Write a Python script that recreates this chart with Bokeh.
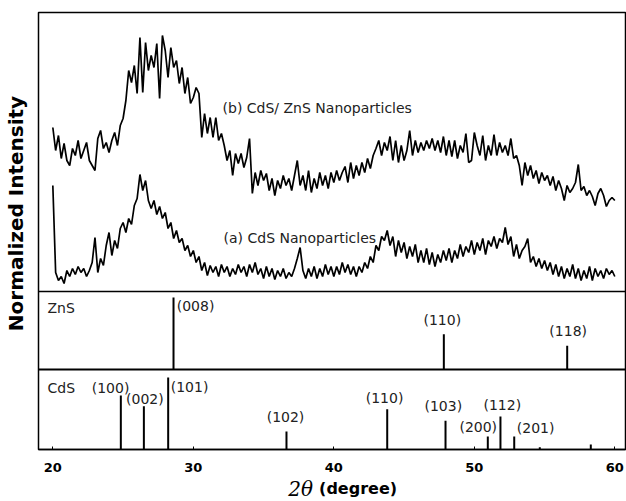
import numpy as np
from bokeh.plotting import figure
from bokeh.layouts import row, column
from bokeh.models import Range1d, Span, FixedTicker, ColumnDataSource
from bokeh.core.properties import value
from bokeh.embed import file_html
from bokeh.resources import INLINE

# ---------------- data ----------------
two_theta = np.round(np.arange(20.0, 60.001, 0.2), 1)  # sampling positions (degree)

cds_zns_np = [
    164, 141, 156, 133, 148, 131, 126, 143, 136, 151,
    133, 141, 149, 131, 126, 121, 153, 161, 143, 149,
    139, 151, 159, 146, 166, 173, 191, 221, 209, 226,
    198, 254, 199, 249, 221, 236, 224, 248, 193, 256,
    241, 214, 244, 224, 231, 208, 224, 198, 214, 188,
    194, 204, 198, 154, 178, 158, 174, 154, 174, 151,
    158, 146, 131, 141, 116, 138, 128, 138, 124, 134,
    153, 98, 119, 106, 121, 111, 118, 101, 113, 96,
    111, 103, 116, 106, 113, 101, 116, 131, 106, 116,
    101, 121, 99, 113, 103, 119, 106, 116, 103, 119,
    109, 121, 111, 119, 125, 109, 129, 113, 126, 116,
    129, 119, 133, 123, 136, 143, 151, 136, 149, 141,
    155, 131, 151, 129, 146, 131, 141, 161, 136, 151,
    139, 149, 141, 151, 143, 153, 141, 151, 139, 155,
    136, 151, 135, 151, 133, 146, 139, 158, 129, 131,
    159, 146, 136, 156, 131, 146, 136, 157, 136, 149,
    139, 146, 136, 153, 133, 136, 126, 106, 129, 116,
    126, 113, 121, 108, 119, 111, 116, 106, 115, 101,
    111, 103, 91, 106, 99, 103, 109, 127, 101, 105,
    96, 101, 95, 86, 98, 103, 96, 85, 91, 94,
    91,
]

cds_np = [
    106, 19, 11, 15, 8, 21, 15, 23, 17, 25,
    19, 23, 15, 21, 29, 54, 19, 33, 26, 46,
    59, 36, 51, 43, 63, 69, 59, 73, 67, 86,
    93, 117, 101, 111, 91, 83, 91, 77, 85, 73,
    79, 63, 69, 53, 61, 49, 53, 41, 46, 35,
    41, 29, 35, 21, 29, 16, 26, 19, 25, 15,
    27, 19, 25, 15, 23, 17, 27, 19, 25, 15,
    27, 19, 29, 17, 23, 13, 25, 15, 23, 12,
    21, 15, 23, 13, 19, 15, 23, 33, 44, 21,
    13, 23, 15, 25, 13, 23, 15, 27, 17, 25,
    15, 25, 17, 29, 19, 27, 17, 25, 15, 25,
    19, 29, 23, 35, 29, 46, 41, 55, 51, 61,
    46, 55, 35, 51, 39, 49, 33, 45, 35, 47,
    29, 41, 29, 43, 27, 39, 25, 37, 29, 41,
    31, 43, 29, 41, 33, 47, 35, 45, 39, 51,
    37, 49, 41, 53, 37, 51, 45, 55, 43, 53,
    49, 64, 47, 55, 35, 47, 33, 41, 45, 53,
    29, 35, 25, 33, 23, 31, 21, 29, 17, 27,
    15, 25, 13, 23, 15, 27, 13, 23, 11, 21,
    13, 25, 11, 23, 15, 21, 13, 23, 17, 21,
    15,
]

zns_pos = [28.59, 47.83, 56.61]
zns_int = [100, 49, 33]
zns_hkl = ["(008)", "(110)", "(118)"]
zns_lbl_x = [30.16, 47.72, 56.68]
zns_lbl_y = [64, 50, 39]

cds_pos = [24.84, 26.48, 28.21, 36.63, 43.80, 47.95, 50.96, 51.86, 52.84, 54.66, 58.29]
cds_int = [75, 60, 100, 25, 56, 40, 18, 46, 18, 3, 7]
cds_hkl = ["(100)", "(002)", "(101)", "(102)", "(110)", "(103)", "(200)", "(112)", "(201)"]
cds_lbl_x = [24.11, 26.55, 29.73, 36.56, 43.61, 47.79, 50.28, 51.99, 54.36]
cds_lbl_y = [62, 51, 63, 33, 52, 44, 23, 45, 22]

x_ticks = [20, 30, 40, 50, 60]

# ---------------- layout constants ----------------
TOP_BASE = 158      # bottom of the pattern panel
ZNS_BASE = 80       # bottom of the ZnS reference panel
CDS_BASE = 0        # bottom of the CdS reference panel
STICK = 0.72        # stick height per % intensity
FONT = "DejaVu Sans"
LBL = dict(text_font=value(FONT), text_font_size="14px", text_color="#222222",
           text_baseline="middle")

# ---------------- main plot ----------------
p = figure(width=590, height=478, output_backend="svg", toolbar_location=None,
           x_range=Range1d(18.98, 60.76), y_range=Range1d(0, 437),
           min_border_left=2, min_border_right=1, min_border_top=12,
           min_border_bottom=29, y_axis_location=None)
p.grid.visible = False
p.outline_line_color = "black"
p.outline_line_width = 1.5

ax = p.xaxis[0]
ax.ticker = FixedTicker(ticks=x_ticks)
ax.major_tick_in = 3
ax.major_tick_out = 0
ax.minor_tick_line_color = None
ax.axis_line_color = "black"
ax.axis_line_width = 1.5
ax.major_label_text_font = FONT
ax.major_label_text_font_style = "bold"
ax.major_label_text_font_size = "13px"
ax.major_label_text_color = "black"
ax.major_label_standoff = 13

p.add_layout(Span(location=TOP_BASE, dimension="width", line_color="black", line_width=1.5))
p.add_layout(Span(location=ZNS_BASE, dimension="width", line_color="black", line_width=2))

src = ColumnDataSource(dict(x=two_theta,
                            b=[TOP_BASE + v for v in cds_zns_np],
                            a=[TOP_BASE + v for v in cds_np]))
p.line("x", "b", source=src, line_color="black", line_width=1.7)
p.line("x", "a", source=src, line_color="black", line_width=1.7)

p.text(x=[32.08], y=[TOP_BASE + 184], text=["(b) CdS/ ZnS Nanoparticles"], text_align="left", **LBL)
p.text(x=[32.15], y=[TOP_BASE + 54], text=["(a) CdS Nanoparticles"], text_align="left", **LBL)

p.segment(x0=zns_pos, y0=[ZNS_BASE] * len(zns_pos), x1=zns_pos,
          y1=[ZNS_BASE + v * STICK for v in zns_int], line_color="black", line_width=2)
p.text(x=zns_lbl_x, y=[ZNS_BASE + h for h in zns_lbl_y], text=zns_hkl, text_align="center", **LBL)
p.text(x=[19.62], y=[ZNS_BASE + 62], text=["ZnS"], text_align="left", **LBL)

p.segment(x0=cds_pos, y0=[CDS_BASE] * len(cds_pos), x1=cds_pos,
          y1=[CDS_BASE + v * STICK for v in cds_int], line_color="black", line_width=2)
p.text(x=cds_lbl_x, y=[CDS_BASE + h for h in cds_lbl_y], text=cds_hkl, text_align="center", **LBL)
p.text(x=[19.62], y=[CDS_BASE + 62], text=["CdS"], text_align="left", **LBL)


def blank(w, h):
    f = figure(width=w, height=h, output_backend="svg", toolbar_location=None,
               x_range=Range1d(0, w), y_range=Range1d(0, h),
               x_axis_location=None, y_axis_location=None, min_border=0)
    f.grid.visible = False
    f.outline_line_color = None
    return f


# y-axis title
ylab = blank(36, 501)
ylab.text(x=[15], y=[288], text=["Normalized Intensity"], angle=np.pi / 2,
          text_font=value(FONT), text_font_style="bold", text_font_size="20px",
          text_color="black", text_align="center", text_baseline="middle")

# x-axis title
xlab = blank(590, 23)
xlab.text(x=[276], y=[13], text=["2θ"], text_font=value("DejaVu Serif"),
          text_font_style="italic", text_font_size="20px", text_color="black",
          text_align="right", text_baseline="middle")
xlab.text(x=[282], y=[13], text=["(degree)"], text_font=value(FONT),
          text_font_style="bold", text_font_size="16px", text_color="black",
          text_align="left", text_baseline="middle")

layout = row(ylab, column(p, xlab, spacing=0), spacing=0)
open("out.html", "w").write(file_html(layout, INLINE))
